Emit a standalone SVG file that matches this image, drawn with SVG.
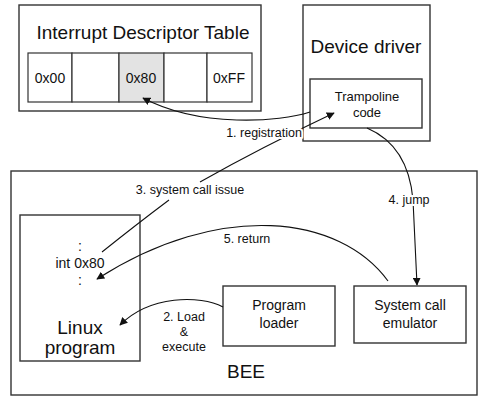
<svg xmlns="http://www.w3.org/2000/svg" width="487" height="397" viewBox="0 0 487 397">
  <defs>
    <marker id="arrow" viewBox="0 0 10 10" refX="9" refY="5" markerWidth="8" markerHeight="8" markerUnits="userSpaceOnUse" orient="auto">
      <path d="M0,0 L10,5 L0,10 z" fill="#111"/>
    </marker>
    <style>
      text { font-family: "Liberation Sans", "DejaVu Sans", sans-serif; fill: #111; text-anchor: middle; }
      .box { fill: #fff; stroke: #333; stroke-width: 1.4; }
      .cell { fill: #fff; stroke: #333; stroke-width: 1.2; }
      .hl { fill: #e3e3e3; }
      .big { font-size: 19px; }
      .mid { font-size: 14px; }
      .sm { font-size: 13px; }
      .code { font-size: 14px; }
      .lbl { font-size: 12.5px; paint-order: stroke; stroke: #fff; stroke-width: 4; stroke-linejoin: round; }
      .wire { fill: none; stroke: #111; stroke-width: 1.1; }
    </style>
  </defs>
  <rect width="487" height="397" fill="#fff"/>

  <!-- interrupt descriptor table -->
  <g id="idt">
    <rect class="box" x="19" y="5" width="242" height="106"/>
    <text class="big" x="143" y="39">Interrupt Descriptor Table</text>
    <rect class="cell" x="28" y="53" width="44" height="49"/>
    <rect class="cell" x="72" y="53" width="47" height="49"/>
    <rect class="cell hl" x="119" y="53" width="45" height="49"/>
    <rect class="cell" x="164" y="53" width="43" height="49"/>
    <rect class="cell" x="207" y="53" width="45" height="49"/>
    <text class="mid" x="50" y="83">0x00</text>
    <text class="mid" x="141" y="83">0x80</text>
    <text class="mid" x="229" y="83">0xFF</text>
  </g>

  <!-- device driver with trampoline -->
  <g id="device-driver">
    <rect class="box" x="303" y="5" width="127" height="136"/>
    <text class="big" x="366" y="53">Device driver</text>
  </g>
  <g id="trampoline">
    <rect class="box" x="310" y="79" width="112" height="49"/>
    <text class="sm" x="367" y="101">Trampoline</text>
    <text class="sm" x="367" y="117">code</text>
  </g>

  <!-- BEE environment -->
  <g id="bee">
    <rect class="box" x="11" y="171" width="466" height="224"/>
    <text class="big" x="246" y="378">BEE</text>
  </g>
  <g id="linux-program">
    <rect class="box" x="20" y="215" width="120" height="146"/>
    <text class="code" x="80" y="251">:</text>
    <text class="code" x="80" y="268">int 0x80</text>
    <text class="code" x="80" y="285">:</text>
    <text class="big" x="80" y="334">Linux</text>
    <text class="big" x="80" y="354">program</text>
  </g>
  <g id="program-loader">
    <rect class="box" x="223" y="286" width="112" height="60"/>
    <text class="mid" x="279" y="310">Program</text>
    <text class="mid" x="279" y="328">loader</text>
  </g>
  <g id="syscall-emulator">
    <rect class="box" x="354" y="286" width="112" height="57"/>
    <text class="mid" x="410" y="310">System call</text>
    <text class="mid" x="410" y="328">emulator</text>
  </g>

  <!-- connectors -->
  <g id="connectors">
    <path class="wire" d="M310,112 C280,122 200,128 143,98" marker-end="url(#arrow)"/>
    <path class="wire" d="M223,307 C200,295 150,295 120,325" marker-end="url(#arrow)"/>
    <!-- system call issue: broken where its label sits -->
    <path class="wire" d="M102,252 Q137,224 169,200"/>
    <path class="wire" d="M200,182 Q260,148 334,113" marker-end="url(#arrow)"/>
    <path class="wire" d="M367,128 C395,140 410,165 413,200 L417,285" marker-end="url(#arrow)"/>
    <path class="wire" d="M388,281 C340,215 220,200 97,279" marker-end="url(#arrow)"/>
    <text class="lbl" x="264" y="137">1. registration</text>
    <text class="lbl" x="184" y="321">2. Load</text>
    <text class="lbl" x="184" y="336">&amp;</text>
    <text class="lbl" x="184" y="351">execute</text>
    <text class="lbl" x="190" y="194">3. system call issue</text>
    <text class="lbl" x="409" y="204">4. jump</text>
    <text class="lbl" x="247" y="243">5. return</text>
  </g>
</svg>
